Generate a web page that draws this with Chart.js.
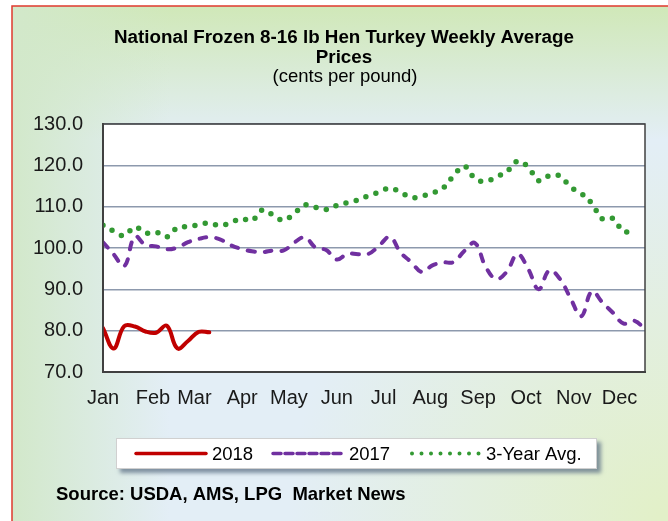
<!DOCTYPE html>
<html>
<head>
<meta charset="utf-8">
<title>National Frozen 8-16 lb Hen Turkey Weekly Average Prices</title>
<script src="https://cdn.jsdelivr.net/npm/chart.js@4.4.1/dist/chart.umd.min.js"></script>
<style>
  html, body { margin: 0; padding: 0; background: #fff; }
  canvas { display: block; }
</style>
</head>
<body>
<canvas id="turkeyChart" width="668" height="521"></canvas>
<script>
// Weekly prices, cents per pound
const months = ["Jan", "Feb", "Mar", "Apr", "May", "Jun", "Jul", "Aug", "Sep", "Oct", "Nov", "Dec"];
// week where each month label sits
const monthWeek = [0, 4.7, 8.6, 13.1, 17.5, 22.0, 26.4, 30.8, 35.3, 39.8, 44.3, 48.6];

const weeks = Array.from({ length: 52 }, (_, i) => i);

const price2018 = [80.6, 75.7, 81.1, 81.0, 79.8, 79.5, 81.2, 75.7, 77.5, 79.7, 79.6];

const price2017 = [
  101.4, 98.5, 95.6, 102.8, 100.7, 100.4, 99.7, 100.1, 101.4, 102.2,
  102.6, 102.1, 100.7, 99.8, 99.2, 99.0, 99.4, 99.4, 101.3, 102.6,
  100.1, 99.5, 97.2, 98.6, 98.5, 98.6, 100.6, 102.7, 98.9, 96.6,
  94.2, 95.8, 96.5, 96.6, 99.3, 101.2, 95.5, 92.5, 94.3, 98.5,
  95.0, 90.0, 94.6, 92.5, 87.8, 83.5, 89.5, 86.8, 84.3, 81.7,
  82.4, 80.3,
];

const avg3Year = [
  105.5, 104.1, 103.0, 105.1, 103.6, 103.8, 102.7, 104.9, 105.2, 105.6,
  106.1, 105.4, 106.1, 107.1, 106.6, 109.2, 108.0, 106.7, 108.4, 110.4,
  109.8, 109.3, 110.3, 111.0, 111.6, 112.7, 113.5, 114.5, 113.5, 112.2,
  112.6, 113.3, 114.5, 117.5, 119.8, 116.8, 116.1, 117.2, 118.5, 121.0,
  119.6, 116.3, 117.5, 117.4, 114.7, 113.2, 110.8, 107.0, 107.1, 103.9,
  104.7,
];

const seriesNames = ["2018", "2017", "3-Year Avg."];

const titleLines = ["National Frozen 8-16 lb Hen Turkey Weekly Average", "Prices"];
const subtitle = "(cents per pound)";
const source = "Source: USDA, AMS, LPG  Market News";

const FONT = "'Liberation Sans', Arial, sans-serif";

// page background, frame, white plot area
const backdrop = {
  id: "backdrop",
  beforeDraw(chart) {
    const { ctx, width, height, chartArea: a } = chart;
    ctx.save();
    ctx.fillStyle = "#ffffff";
    ctx.fillRect(0, 0, width, height);

    const x0 = 12, y0 = 6;
    ctx.fillStyle = "#e3eef6";
    ctx.fillRect(x0, y0, width - x0, height - y0);

    let g = ctx.createLinearGradient(0, y0, 0, 140);
    g.addColorStop(0, "rgba(208,232,184,1)");
    g.addColorStop(1, "rgba(208,232,184,0)");
    ctx.fillStyle = g;
    ctx.fillRect(x0, y0, width - x0, 140);

    g = ctx.createLinearGradient(x0, 0, 170, 0);
    g.addColorStop(0, "rgba(210,232,202,1)");
    g.addColorStop(1, "rgba(210,232,202,0)");
    ctx.fillStyle = g;
    ctx.fillRect(x0, y0, 170, height - y0);

    g = ctx.createRadialGradient(width, height, 10, width, height, 380);
    g.addColorStop(0, "rgba(226,240,200,1)");
    g.addColorStop(1, "rgba(226,240,200,0)");
    ctx.fillStyle = g;
    ctx.fillRect(x0, y0, width - x0, height - y0);

    ctx.strokeStyle = "#e0392e";
    ctx.lineWidth = 1.5;
    ctx.strokeRect(x0, y0, width + 10, height + 10);

    ctx.fillStyle = "#ffffff";
    ctx.fillRect(a.left, a.top, a.right - a.left, a.bottom - a.top);

    // heading
    ctx.fillStyle = "#000000";
    ctx.textAlign = "center";
    ctx.textBaseline = "middle";
    ctx.font = "bold 18.8px " + FONT;
    ctx.fillText(titleLines[0], 344, 38);
    ctx.fillText(titleLines[1], 344, 58);
    ctx.font = "18.5px " + FONT;
    ctx.fillText(subtitle, 345, 77);
    ctx.restore();
  },
  afterDraw(chart) {
    const { ctx, chartArea: a } = chart;
    ctx.save();
    ctx.strokeStyle = "#404040";
    ctx.lineWidth = 1.5;
    ctx.strokeRect(a.left, a.top, a.right - a.left, a.bottom - a.top);
    ctx.restore();
  },
};

// boxed legend with line samples, plus the source note
const boxLegend = {
  id: "boxLegend",
  afterDraw(chart) {
    const { ctx } = chart;
    const box = { x: 116, y: 438, w: 481, h: 31 };
    ctx.save();
    ctx.shadowColor = "rgba(95,115,135,0.75)";
    ctx.shadowBlur = 4;
    ctx.shadowOffsetX = 4;
    ctx.shadowOffsetY = 4;
    ctx.fillStyle = "#ffffff";
    ctx.fillRect(box.x, box.y, box.w, box.h);
    ctx.restore();

    ctx.save();
    ctx.strokeStyle = "#d0d0d0";
    ctx.lineWidth = 1;
    ctx.strokeRect(box.x + 0.5, box.y + 0.5, box.w - 1, box.h - 1);

    const cy = box.y + box.h / 2;
    const slots = [
      { x1: 136, x2: 206, tx: 212 },
      { x1: 273, x2: 343, tx: 349 },
      { x1: 412, x2: 480, tx: 486 },
    ];
    chart.data.datasets.forEach((ds, i) => {
      const s = slots[i];
      ctx.beginPath();
      ctx.strokeStyle = ds.borderColor;
      ctx.lineWidth = ds.legendWidth;
      ctx.lineCap = ds.borderCapStyle || "butt";
      ctx.setLineDash(ds.legendDash || []);
      ctx.moveTo(s.x1, cy);
      ctx.lineTo(s.x2, cy);
      ctx.stroke();
      ctx.setLineDash([]);
      ctx.fillStyle = "#000000";
      ctx.font = "18.5px " + FONT;
      ctx.textBaseline = "middle";
      ctx.textAlign = "left";
      ctx.fillText(ds.label, s.tx, cy + 1);
    });

    ctx.font = "bold 18.5px " + FONT;
    ctx.fillStyle = "#000000";
    ctx.textBaseline = "middle";
    ctx.fillText(source, 56, 495);
    ctx.restore();
  },
};

new Chart(document.getElementById("turkeyChart"), {
  type: "line",
  data: {
    labels: weeks,
    datasets: [
      {
        label: seriesNames[0],
        data: price2018,
        borderColor: "#c00000",
        borderWidth: 4,
        borderCapStyle: "round",
        legendWidth: 3.5,
      },
      {
        label: seriesNames[1],
        data: price2017,
        borderColor: "#7030a0",
        borderWidth: 4,
        borderDash: [7, 10],
        borderCapStyle: "round",
        legendWidth: 3.5,
        legendDash: [8, 4],
      },
      {
        label: seriesNames[2],
        data: avg3Year,
        borderColor: "#339933",
        borderWidth: 5.5,
        borderDash: [0, 10.5],
        borderCapStyle: "round",
        legendWidth: 4,
        legendDash: [0, 9.5],
      },
    ],
  },
  options: {
    responsive: false,
    animation: false,
    elements: {
      point: { radius: 0 },
      line: { tension: 0.4, fill: false },
    },
    layout: { padding: { left: 12, right: 23, top: 124, bottom: 0 } },
    plugins: {
      legend: { display: false },
      tooltip: { enabled: false },
    },
    scales: {
      x: {
        type: "linear",
        min: 0,
        max: 51,
        grid: { display: false, drawTicks: false },
        border: { display: true, color: "#404040", width: 2 },
        afterBuildTicks(scale) {
          scale.ticks = monthWeek.map((v) => ({ value: v }));
        },
        afterFit(scale) {
          scale.height = 149;
        },
        ticks: {
          autoSkip: false,
          maxRotation: 0,
          padding: 14,
          color: "#1a1a1a",
          font: { family: FONT, size: 20 },
          callback: (v, i) => months[i],
        },
      },
      y: {
        min: 70,
        max: 130,
        grid: { color: "#8d99ad", lineWidth: 1.5, drawTicks: false },
        border: { display: true, color: "#404040", width: 2 },
        afterFit(scale) {
          scale.width = 91;
        },
        ticks: {
          stepSize: 10,
          padding: 20,
          color: "#1a1a1a",
          font: { family: FONT, size: 20 },
          callback: (v) => v.toFixed(1),
        },
      },
    },
  },
  plugins: [backdrop, boxLegend],
});
</script>
</body>
</html>
